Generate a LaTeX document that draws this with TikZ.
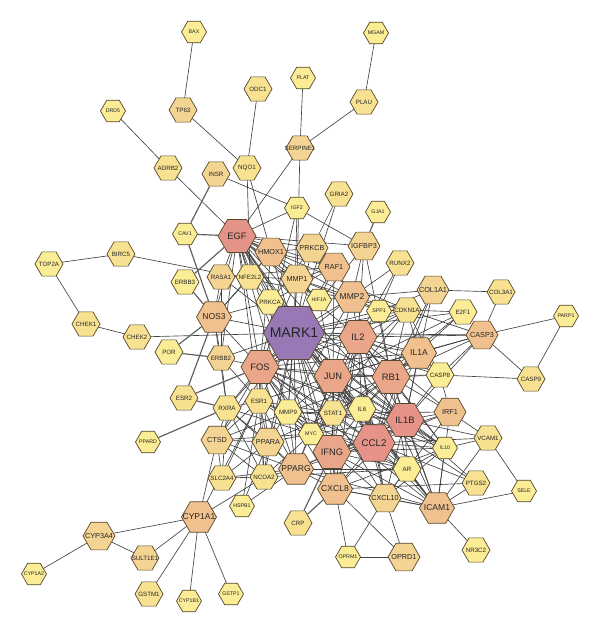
\documentclass[tikz,border=0pt]{standalone}
\usepackage{fontspec}
\setmainfont{Liberation Sans}
\usetikzlibrary{shapes.geometric}
\pgfdeclarelayer{bg}
\pgfsetlayers{bg,main}

\definecolor{deg1}{RGB}{251,236,150}
\definecolor{deg2}{RGB}{248,226,146}
\definecolor{deg3}{RGB}{244,212,146}
\definecolor{deg4}{RGB}{240,193,142}
\definecolor{deg5}{RGB}{234,166,137}
\definecolor{deg6}{RGB}{229,146,136}
\definecolor{hubc}{RGB}{152,121,181}
\definecolor{hexline}{RGB}{85,72,45}
\definecolor{rimline}{RGB}{95,95,95}

\begin{document}
\begin{tikzpicture}[x=0.03cm, y=-0.03cm,
gene/.style = {regular polygon, regular polygon sides=6, draw=hexline,
line width=0.6pt, inner sep=0pt, text=black!85,
execute at begin node={\hbox to 0pt\bgroup\hss},
execute at end node={\hss\egroup}},
gs/.style = {gene, minimum size=0.75cm, font=\fontsize{4.5}{5}\selectfont},
gm/.style = {gene, minimum size=0.84cm, font=\fontsize{5.3}{6}\selectfont},
gl/.style = {gene, minimum size=0.96cm, font=\fontsize{6.2}{7}\selectfont},
glx/.style = {gene, minimum size=1.05cm, font=\fontsize{7.3}{8}\selectfont},
gx/.style = {gene, minimum size=1.14cm, font=\fontsize{8}{9}\selectfont},
gxx/.style = {gene, minimum size=1.26cm, font=\fontsize{8.3}{9}\selectfont},
ghub/.style = {gene, minimum size=1.83cm, font=\fontsize{12}{13}\selectfont},
link/.style = {draw=black!74, line width=0.55pt},
rimlink/.style = {draw=rimline, line width=1pt}
]
  \useasboundingbox (0,0) rectangle (600,634);

  % outer ring, top
  \node[gs, fill=deg1] (BAX) at (194,32) {BAX};
  \node[gs, fill=deg1] (MGAM) at (376,33) {MGAM};
  \node[gs, fill=deg1] (PLAT) at (303,78) {PLAT};
  \node[gm, fill=deg2] (PLAU) at (364,102) {PLAU};
  \node[gm, fill=deg2] (ODC1) at (258,89) {ODC1};
  \node[gm, fill=deg3] (TP63) at (183,110) {TP63};
  \node[gs, fill=deg1] (DRD5) at (113,111) {DRD5};
  \node[gm, fill=deg2] (ADRB2) at (168,168) {ADRB2};
  \node[gm, fill=deg3] (INSR) at (216,174) {INSR};
  \node[gm, fill=deg2] (NQO1) at (247,168) {NQO1};
  \node[gm, fill=deg3] (SERPINE1) at (300,148) {SERPINE1};
  \node[gs, fill=deg1] (IGF2) at (297,208) {IGF2};
  \node[gm, fill=deg2] (GRIA2) at (339,194) {GRIA2};
  \node[gs, fill=deg1] (GJA1) at (378,212) {GJA1};

  % left
  \node[gm, fill=deg1] (TOP2A) at (49,264) {TOP2A};
  \node[gm, fill=deg2] (BIRC5) at (121,254) {BIRC5};
  \node[gm, fill=deg2] (CHEK1) at (86,324) {CHEK1};
  \node[gm, fill=deg2] (CHEK2) at (137,337) {CHEK2};
  \node[gs, fill=deg1] (CAV1) at (185,234) {CAV1};
  \node[gm, fill=deg1] (ERBB3) at (185,282) {ERBB3};
  \node[gm, fill=deg1] (POR) at (169,352) {POR};
  \node[gm, fill=deg2] (ESR2) at (184,398) {ESR2};
  \node[gs, fill=deg1] (PPARD) at (148,442) {PPARD};

  % core
  \node[gx, fill=deg6] (EGF) at (237,236) {EGF};
  \node[gl, fill=deg4] (HMOX1) at (271,252) {HMOX1};
  \node[gl, fill=deg3] (PRKCB) at (312,248) {PRKCB};
  \node[gl, fill=deg3] (IGFBP3) at (364,246) {IGFBP3};
  \node[gl, fill=deg4] (RAF1) at (334,267) {RAF1};
  \node[gm, fill=deg2] (RUNX2) at (400,263) {RUNX2};
  \node[gm, fill=deg3] (RASA1) at (221,277) {RASA1};
  \node[gm, fill=deg2] (NFE2L2) at (250,277) {NFE2L2};
  \node[gl, fill=deg3] (MMP1) at (297,279) {MMP1};
  \node[gs, fill=deg1] (HIF1A) at (319,300) {HIF1A};
  \node[glx, fill=deg4] (MMP2) at (352,297) {MMP2};
  \node[gs, fill=deg1] (SPP1) at (379,311) {SPP1};
  \node[gm, fill=deg2] (CDKN1A) at (407,310) {CDKN1A};
  \node[gl, fill=deg3] (COL1A1) at (433,290) {COL1A1};
  \node[gm, fill=deg1] (E2F1) at (463,312) {E2F1};
  \node[gm, fill=deg2] (COL3A1) at (501,292) {COL3A1};
  \node[gm, fill=deg1] (PRKCA) at (270,302) {PRKCA};
  \node[glx, fill=deg4] (NOS3) at (214,317) {NOS3};
  \node[ghub, fill=hubc] (MARK1) at (294,333) {MARK1};
  \node[gx, fill=deg5] (IL2) at (358,337) {IL2};
  \node[gm, fill=deg3] (ERBB2) at (221,358) {ERBB2};
  \node[gx, fill=deg5] (FOS) at (260,367) {FOS};
  \node[gx, fill=deg5] (JUN) at (333,376) {JUN};
  \node[gx, fill=deg5] (RB1) at (391,377) {RB1};
  \node[glx, fill=deg4] (IL1A) at (419,353) {IL1A};
  \node[gl, fill=deg4] (CASP3) at (482,335) {CASP3};
  \node[gs, fill=deg1] (PARP1) at (566,316) {PARP1};
  \node[gm, fill=deg1] (CASP8) at (440,375) {CASP8};
  \node[gm, fill=deg2] (CASP9) at (531,379) {CASP9};
  \node[gm, fill=deg2] (RXRA) at (227,408) {RXRA};
  \node[gm, fill=deg2] (ESR1) at (259,401) {ESR1};
  \node[gm, fill=deg1] (MMP9) at (288,412) {MMP9};
  \node[gm, fill=deg2] (STAT1) at (333,413) {STAT1};
  \node[gm, fill=deg1] (IL6) at (362,409) {IL6};
  \node[gx, fill=deg6] (IL1B) at (405,420) {IL1B};
  \node[gl, fill=deg4] (IRF1) at (450,412) {IRF1};
  \node[gs, fill=deg1] (MYC) at (311,434) {MYC};
  \node[gl, fill=deg3] (CTSD) at (217,440) {CTSD};
  \node[gl, fill=deg3] (PPARA) at (268,442) {PPARA};
  \node[gx, fill=deg5] (IFNG) at (332,452) {IFNG};
  \node[gxx, fill=deg6] (CCL2) at (374,443) {CCL2};
  \node[gs, fill=deg1] (IL10) at (445,448) {IL10};
  \node[gm, fill=deg2] (VCAM1) at (488,438) {VCAM1};
  \node[gm, fill=deg2] (SLC2A4) at (222,478) {SLC2A4};
  \node[gm, fill=deg2] (NCOA2) at (264,477) {NCOA2};
  \node[glx, fill=deg4] (PPARG) at (296,469) {PPARG};
  \node[gm, fill=deg1] (AR) at (407,469) {AR};
  \node[gm, fill=deg2] (PTGS2) at (476,483) {PTGS2};
  \node[gs, fill=deg1] (SELE) at (524,491) {SELE};
  \node[gs, fill=deg1] (HSPB1) at (242,506) {HSPB1};
  \node[glx, fill=deg4] (CXCL8) at (335,489) {CXCL8};
  \node[gl, fill=deg3] (CXCL10) at (385,498) {CXCL10};
  \node[glx, fill=deg4] (ICAM1) at (437,508) {ICAM1};

  % bottom
  \node[glx, fill=deg4] (CYP1A1) at (199,517) {CYP1A1};
  \node[gm, fill=deg2] (CRP) at (298,523) {CRP};
  \node[gl, fill=deg3] (CYP3A4) at (99,536) {CYP3A4};
  \node[gm, fill=deg3] (SULT1E1) at (145,558) {SULT1E1};
  \node[gm, fill=deg1] (NR3C2) at (476,550) {NR3C2};
  \node[gs, fill=deg1] (OPRM1) at (348,557) {OPRM1};
  \node[gl, fill=deg3] (OPRD1) at (404,557) {OPRD1};
  \node[gs, fill=deg1] (CYP1A2) at (34,574) {CYP1A2};
  \node[gm, fill=deg2] (GSTM1) at (149,594) {GSTM1};
  \node[gs, fill=deg1] (CYP1B1) at (189,601) {CYP1B1};
  \node[gs, fill=deg1] (GSTP1) at (231,594) {GSTP1};

  \begin{pgfonlayer}{bg}
  % interactions
  \foreach \a/\b in {BAX/TP63, TP63/NQO1, DRD5/ADRB2, ADRB2/EGF, INSR/IGF2,
      ODC1/NQO1, NQO1/NFE2L2, NQO1/HMOX1, PLAT/SERPINE1, PLAU/SERPINE1, PLAU/MGAM,
      SERPINE1/EGF, SERPINE1/MMP1, GRIA2/PRKCB, GRIA2/MARK1,
      TOP2A/BIRC5, TOP2A/CHEK1, CHEK1/CHEK2, BIRC5/CDKN1A, CHEK2/MARK1,
      CYP1A1/CYP3A4, CYP1A1/SULT1E1, CYP1A1/GSTM1, CYP1A1/CYP1B1, CYP1A1/GSTP1,
      CYP1A1/CTSD, CYP1A1/ESR1, CYP1A1/NCOA2, CYP3A4/CYP1A2, CYP3A4/SULT1E1,
      HSPB1/ESR1, HSPB1/PPARG,
      OPRM1/OPRD1, OPRM1/CXCL8, OPRM1/CXCL10, OPRD1/CXCL8, OPRD1/CXCL10,
      NR3C2/ICAM1, SELE/ICAM1, SELE/VCAM1, PTGS2/CXCL8, PTGS2/IL1B, PTGS2/IL6,
      VCAM1/IRF1, VCAM1/IL1B, VCAM1/ICAM1, VCAM1/CCL2, VCAM1/IL10,
      CASP3/PARP1, CASP3/CASP9, CASP3/CASP8, CASP3/COL3A1, CASP3/CDKN1A, CASP3/IL1B,
      CASP3/MARK1, CASP3/IL1A, PARP1/CASP9, CASP8/CASP9,
      COL1A1/COL3A1, COL1A1/MMP2, COL1A1/IL1B, COL1A1/CCL2, COL1A1/SPP1,
      E2F1/CDKN1A, E2F1/RB1, E2F1/MYC, RUNX2/MMP2, RUNX2/SPP1, RUNX2/IL2,
      IGFBP3/IGF2, IGFBP3/MMP2, IGFBP3/IL2, IGFBP3/RB1, IGFBP3/EGF, IGFBP3/MARK1,
      IGF2/EGF, IGF2/MARK1, IGF2/FOS,
      MARK1/EGF, MARK1/HMOX1, MARK1/PRKCB, MARK1/RAF1, MARK1/MMP1, MARK1/HIF1A,
      MARK1/MMP2, MARK1/PRKCA, MARK1/NOS3, MARK1/RASA1, MARK1/NFE2L2, MARK1/ERBB2,
      MARK1/FOS, MARK1/JUN, MARK1/IL2, MARK1/RB1, MARK1/IL1A, MARK1/CASP8,
      MARK1/STAT1, MARK1/MMP9, MARK1/IL6, MARK1/IL1B, MARK1/MYC, MARK1/ESR1,
      MARK1/RXRA, MARK1/CTSD, MARK1/PPARA, MARK1/IFNG, MARK1/CCL2, MARK1/CXCL8,
      MARK1/PPARG, MARK1/SPP1, MARK1/CDKN1A, MARK1/ICAM1, MARK1/NCOA2, MARK1/AR,
      MARK1/IL10, MARK1/E2F1,
      EGF/HMOX1, EGF/RASA1, EGF/NFE2L2, EGF/PRKCA, EGF/ERBB2, EGF/FOS, EGF/JUN,
      EGF/IL2, EGF/MMP2, EGF/MMP9, EGF/CCL2, EGF/IL1B, EGF/STAT1, EGF/CDKN1A,
      EGF/RAF1, EGF/PRKCB, EGF/MMP1, EGF/NOS3, EGF/HIF1A, EGF/ESR1, EGF/IL6, EGF/MYC,
      FOS/JUN, FOS/IL2, FOS/RB1, FOS/IL1B, FOS/IFNG, FOS/CCL2, FOS/CXCL8, FOS/ESR1,
      FOS/MMP9, FOS/STAT1, FOS/IL6, FOS/MYC, FOS/RXRA, FOS/NOS3, FOS/ERBB2, FOS/PPARA,
      FOS/PPARG, FOS/CTSD, FOS/NCOA2, FOS/IL1A, FOS/ICAM1, FOS/CDKN1A, FOS/MMP1,
      FOS/MMP2, FOS/HMOX1,
      JUN/IL2, JUN/RB1, JUN/IL1B, JUN/IFNG, JUN/CCL2, JUN/CXCL8, JUN/STAT1, JUN/IL6,
      JUN/MYC, JUN/IL1A, JUN/CASP8, JUN/CASP3, JUN/MMP2, JUN/MMP9, JUN/CDKN1A,
      JUN/ICAM1, JUN/IL10, JUN/ESR1, JUN/PPARG, JUN/AR, JUN/HIF1A, JUN/RAF1, JUN/E2F1,
      IL2/RB1, IL2/IL1B, IL2/IFNG, IL2/CCL2, IL2/STAT1, IL2/IL6, IL2/IL10, IL2/IL1A,
      IL2/CXCL8, IL2/CXCL10, IL2/ICAM1, IL2/MMP2, IL2/SPP1, IL2/CDKN1A, IL2/MYC,
      IL2/IRF1, IL2/CASP3, IL2/CASP8,
      RB1/IL1B, RB1/CCL2, RB1/CDKN1A, RB1/MYC, RB1/STAT1, RB1/IL6, RB1/IL1A,
      RB1/CASP8, RB1/CASP3, RB1/IRF1, RB1/AR, RB1/IL10, RB1/ICAM1, RB1/COL1A1,
      RB1/SPP1, RB1/MMP9,
      IL1B/CCL2, IL1B/IFNG, IL1B/CXCL8, IL1B/IL6, IL1B/IL10, IL1B/ICAM1, IL1B/IRF1,
      IL1B/IL1A, IL1B/CASP8, IL1B/STAT1, IL1B/CXCL10, IL1B/AR, IL1B/MMP9, IL1B/PPARG,
      IL1B/MYC,
      CCL2/IFNG, CCL2/CXCL8, CCL2/CXCL10, CCL2/ICAM1, CCL2/IL6, CCL2/IL10, CCL2/STAT1,
      CCL2/AR, CCL2/PPARG, CCL2/MMP9, CCL2/IRF1, CCL2/PTGS2, CCL2/MYC, CCL2/IL1A,
      IFNG/CXCL8, IFNG/CXCL10, IFNG/ICAM1, IFNG/IL6, IFNG/IL10, IFNG/STAT1, IFNG/IRF1,
      IFNG/MYC, IFNG/PPARG, IFNG/MMP9, IFNG/AR,
      STAT1/IL6, STAT1/MYC, STAT1/IRF1, STAT1/MMP9, STAT1/IL10, STAT1/CXCL10,
      STAT1/ESR1, STAT1/PPARA, IL6/MYC, IL6/IL10, IL6/CXCL8, IL6/ICAM1, IL6/CXCL10,
      MYC/ESR1, MYC/RXRA, MYC/PPARA, MYC/PPARG, MYC/CDKN1A, MYC/AR, MYC/MMP9,
      MYC/CTSD, MYC/NCOA2,
      PPARG/PPARA, PPARG/RXRA, PPARG/NCOA2, PPARG/SLC2A4, PPARG/CTSD, PPARG/ESR1,
      PPARG/CXCL8, PPARG/ICAM1, PPARG/MMP9, PPARG/AR,
      PPARA/RXRA, PPARA/NCOA2, PPARA/SLC2A4, PPARA/CTSD, PPARA/ESR1, PPARA/MMP9,
      PPARA/HSPB1, RXRA/ESR1, RXRA/NCOA2, RXRA/CTSD, RXRA/SLC2A4, RXRA/ERBB2,
      RXRA/NOS3, ESR1/NCOA2, ESR1/CTSD, ESR1/MMP9, ESR1/AR, ESR1/ERBB2, ESR1/SLC2A4,
      CTSD/SLC2A4, CTSD/MMP9, CTSD/NCOA2, SLC2A4/NCOA2, NCOA2/AR,
      AR/CXCL10, AR/ICAM1, AR/IL10,
      ICAM1/CXCL8, ICAM1/CXCL10, ICAM1/IL10, ICAM1/IRF1, ICAM1/PTGS2,
      CXCL8/CXCL10, CXCL8/IL10, CXCL10/IL10, CXCL10/IRF1, IRF1/CASP8,
      IL1A/CASP8, IL1A/CDKN1A, IL1A/IL6, CASP8/CDKN1A,
      NOS3/RASA1, NOS3/ERBB2, NOS3/HMOX1, NOS3/PRKCA, NOS3/NFE2L2,
      HMOX1/NFE2L2, HMOX1/PRKCB, HMOX1/RAF1, HMOX1/MMP1, HMOX1/HIF1A,
      PRKCB/RAF1, PRKCB/MMP1, PRKCB/PRKCA, RAF1/PRKCA, RAF1/MMP1, RAF1/MMP2,
      RAF1/HIF1A, RAF1/RASA1, MMP1/MMP2, MMP1/MMP9, MMP1/HIF1A, MMP1/NFE2L2,
      MMP1/SPP1, MMP2/SPP1, MMP2/CDKN1A, MMP2/HIF1A, MMP2/MMP9,
      CDKN1A/SPP1, ERBB2/RASA1}
    \draw[link] (\a.center) -- (\b.center);
  \end{pgfonlayer}

  % rim nodes, edge to edge
  \draw[rimlink] (INSR) -- (CAV1);
  \draw[rimlink] (CAV1) -- (EGF);
  \draw[rimlink] (CAV1) -- (NOS3);
  \draw[rimlink] (ERBB3) -- (EGF);
  \draw[rimlink] (ERBB3) -- (NOS3);
  \draw[rimlink] (POR) -- (NOS3);
  \draw[rimlink] (POR) -- (ERBB2);
  \draw[rimlink] (ESR2) -- (FOS);
  \draw[rimlink] (ESR2) -- (RXRA);
  \draw[rimlink] (ESR2) -- (NOS3);
  \draw[rimlink] (PPARD) -- (RXRA);
  \draw[rimlink] (CRP) -- (CXCL8);
  \draw[rimlink] (CRP) -- (IFNG);
  \draw[rimlink] (GJA1) -- (IGFBP3);

\end{tikzpicture}
\end{document}
